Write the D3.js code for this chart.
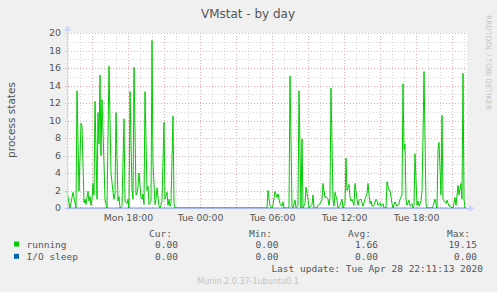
<script src="https://d3js.org/d3.v7.min.js"></script>
<style>
body { margin: 0; background: #f0f0f0; }
svg text { font-family: "DejaVu Sans", sans-serif; fill: #555; }
svg text.mono { font-family: "DejaVu Sans Mono", monospace; }
</style>
<svg id="chart" width="497" height="292"></svg>
<script>
// 5 minute sample index (from Mon 12:55 UTC) and value
var steps = [0,3,6,9,10,12,14,15,17,18,19,21,22,23,24,25,26,27,28,30,31,32,33,34,35,37,38,40,42,44,46,47,48,49,51,52,53,55,57,58,60,61,62,63,65,66,67,69,70,71,72,74,75,76,77,78,80,81,82,84,85,86,88,89,90,92,93,95,97,98,100,101,102,103,104,106,107,108,
    200,201,203,205,206,208,210,211,213,215,216,217,222,223,225,226,228,229,231,232,234,235,236,238,239,241,242,245,246,247,250,251,253,255,256,258,259,261,262,263,264,266,267,268,270,271,273,275,276,278,279,280,282,283,284,285,287,288,290,291,292,
    294,296,298,300,301,303,304,305,307,309,310,311,313,314,316,317,319,320,322,323,325,326,328,329,330,332,333,335,336,337,338,339,340,342,343,345,346,347,348,350,351,352,354,355,356,357,359,360,365,366,368,370,371,372,374,375,376,377,379,380,382,383,385,386,388,389,391,392,394,395,396,397,398,399]
var running = [1.9,0,1.8,0,13.4,1.9,9.7,9.4,0.6,1.0,0.4,1.9,0.8,1.3,0.3,1.0,2.8,1.5,12.2,1.0,10.9,7.3,15.2,6.0,12.4,5.0,1.0,0,16.2,4.0,1.8,1.0,1.7,10.9,0.8,1.3,0,0.2,10.2,0.8,0.5,1.0,0,13.3,2.0,1.0,16.1,1.5,1.6,2.5,4.0,1.2,1.0,1.6,0.4,13.3,2.0,2.5,0.4,0.8,19.15,5.0,0.4,1.0,2.3,0.2,0,0.8,9.8,1.0,1.8,0.3,1.0,0.2,0.6,10.5,0.5,0,
    0,2.0,0.2,0,0.3,1.9,1.2,1.6,0.5,0.2,0.7,0,0,15.1,0.1,0,0.9,0,0.3,13.4,0,7.9,0,0.5,2.4,1.0,0,0.4,1.5,0,0,0.3,0.5,1.0,2.8,1.2,1.3,1.0,0.3,1.2,13.7,1.0,0.2,1.8,0.9,0,0.3,1.0,0,0.6,5.7,2.0,2.7,1.2,0.8,1.0,0.3,2.8,1.0,0.3,0.9,
    1.0,0.2,1.0,1.6,2.8,0.5,0.8,0.2,0.3,1.0,0.8,0.3,0.6,0.2,0.5,0,0,3.0,2.0,2.0,0.5,0,0.7,0.4,0.2,0.5,1.0,1.5,14.2,6.7,7.3,1.0,0.3,0.9,0.2,0.5,0,0.3,6.2,0.3,0.8,0.2,0.8,2.0,8.0,15.6,0.5,0,0,0.2,1.0,0,6.7,7.5,1.5,10.6,1.0,0.8,0.5,0.9,0.2,0.3,0,0,1.2,0.3,2.6,1.5,2.8,1.0,15.4,1.0,0,0]
var ioSteps = [0, 399]
var ioSleep = [0, 0]

var yTicks = [0,2,4,6,8,10,12,14,16,18,20]
var legendNames = ["running", "I/O sleep"]
var legendColors = ["#00cc00", "#0066b3"]
var curVals = ["0.00", "0.00"]
var minVals = ["0.00", "0.00"]
var avgVals = ["1.66", "0.00"]
var maxVals = ["19.15", "0.00"]

var svg = d3.select("#chart")
var pLeft = 67, pRight = 467, pTop = 33, pBottom = 208
var start = new Date(Date.UTC(2020, 3, 27, 12, 55))
var end = new Date(start.getTime() + 400 * 5 * 60000)
var x = d3.scaleUtc().domain([start, end]).range([pLeft, pRight])
var y = d3.scaleLinear().domain([0, 20]).range([pBottom, pTop])
var t = i => new Date(start.getTime() + i * 5 * 60000)

svg.append("rect").attr("width", 497).attr("height", 292).attr("fill", "#f0f0f0")
svg.append("rect").attr("x", pLeft).attr("y", pTop).attr("width", pRight - pLeft).attr("height", pBottom - pTop).attr("fill", "#fff")

// grid: minor every hour / 1 unit, major every 3 hours / 2 units
var minorX = d3.utcHour.every(1).range(start, end)
var majorX = d3.utcHour.every(3).range(start, end)
var minorY = d3.range(1, 21, 2)
svg.append("g").selectAll("line").data(minorX).join("line")
    .attr("x1", d => Math.round(x(d)) + 0.5).attr("x2", d => Math.round(x(d)) + 0.5).attr("y1", pTop).attr("y2", pBottom)
    .style("stroke", "#d6d6d6").style("stroke-dasharray", "1,2")
svg.append("g").selectAll("line").data(minorY).join("line")
    .attr("x1", pLeft).attr("x2", pRight).attr("y1", d => Math.round(y(d)) + 0.5).attr("y2", d => Math.round(y(d)) + 0.5)
    .style("stroke", "#d6d6d6").style("stroke-dasharray", "1,2")
svg.append("g").selectAll("line").data(majorX).join("line")
    .attr("x1", d => Math.round(x(d)) + 0.5).attr("x2", d => Math.round(x(d)) + 0.5).attr("y1", pTop).attr("y2", pBottom + 2)
    .style("stroke", "#f2a8a8").style("stroke-dasharray", "1,2")
svg.append("g").selectAll("line").data(yTicks.slice(1)).join("line")
    .attr("x1", pLeft - 2).attr("x2", pRight).attr("y1", d => Math.round(y(d)) + 0.5).attr("y2", d => Math.round(y(d)) + 0.5)
    .style("stroke", "#f2a8a8").style("stroke-dasharray", "1,2")

// series
var line = d3.line().x(d => x(t(d[0]))).y(d => y(d[1]))
svg.append("path").datum(d3.zip(steps, running)).attr("d", line)
    .attr("fill", "none").style("stroke", legendColors[0]).style("stroke-width", 1)
svg.append("path").datum(d3.zip(ioSteps, ioSleep)).attr("d", line)
    .attr("fill", "none").style("stroke", legendColors[1]).style("stroke-width", 1).style("stroke-opacity", 0.6)

// axes
svg.append("line").attr("x1", pLeft - 2).attr("x2", pRight + 3).attr("y1", pBottom + 0.5).attr("y2", pBottom + 0.5)
    .style("stroke", "#a9b8ee").style("stroke-width", 1)
svg.append("line").attr("x1", pLeft + 0.5).attr("x2", pLeft + 0.5).attr("y1", pBottom + 2).attr("y2", pTop - 3)
    .style("stroke", "#cfd6f8").style("stroke-width", 1)
svg.append("path").attr("d", `M${pRight + 2},${pBottom - 3} L${pRight + 8},${pBottom + 0.5} L${pRight + 2},${pBottom + 4} Z`).attr("fill", "#cfd6f8")
svg.append("path").attr("d", `M${pLeft - 3},${pTop - 2} L${pLeft + 0.5},${pTop - 8} L${pLeft + 4},${pTop - 2} Z`).attr("fill", "#cfd6f8")

// tick labels
svg.append("g").selectAll("text").data(yTicks).join("text")
    .attr("x", 61).attr("y", d => y(d) + 3.3).attr("text-anchor", "end")
    .style("font-size", "9.5px").text(d => d)
svg.append("g").selectAll("text").data(d3.utcHour.every(6).range(start, end)).join("text")
    .attr("x", d => x(d) + 0.5).attr("y", 220.5).attr("text-anchor", "middle")
    .style("font-size", "9.3px").text(d3.utcFormat("%a %H:%M"))

// titles
svg.append("text").attr("x", 248).attr("y", 17.5).attr("text-anchor", "middle").style("font-size", "12px").text("VMstat - by day")
svg.append("text").attr("transform", "translate(14.5,120) rotate(-90)").attr("text-anchor", "middle")
    .style("font-size", "10.5px").text("process states")
svg.append("text").attr("transform", "translate(485.5,15) rotate(90)").attr("text-anchor", "start")
    .style("font-size", "7.4px").style("fill", "#c4c4c4").text("RRDTOOL / TOBI OETIKER")

// legend
var cols = [["Cur:", 172, 178, curVals], ["Min:", 272, 278.5, minVals], ["Avg:", 371, 378, avgVals], ["Max:", 470, 477, maxVals]]
cols.forEach(function(c) {
    svg.append("text").attr("class", "mono").attr("x", c[1]).attr("y", 236.5).attr("text-anchor", "end")
        .style("font-size", "9.5px").text(c[0])
    c[3].forEach(function(v, i) {
        svg.append("text").attr("class", "mono").attr("x", c[2]).attr("y", 247.8 + i * 12.3).attr("text-anchor", "end")
            .style("font-size", "9.5px").text(v)
    })
})
legendNames.forEach(function(n, i) {
    svg.append("rect").attr("x", 14).attr("y", 241.5 + i * 12.3).attr("width", 5).attr("height", 5).attr("fill", legendColors[i])
    svg.append("text").attr("class", "mono").attr("x", 26.5).attr("y", 247.8 + i * 12.3)
        .style("font-size", "9.5px").text(n)
})
svg.append("text").attr("class", "mono").attr("x", 483).attr("y", 272.2).attr("text-anchor", "end")
    .style("font-size", "9.5px").text("Last update: Tue Apr 28 22:11:13 2020")
svg.append("text").attr("x", 248).attr("y", 284).attr("text-anchor", "middle")
    .style("font-size", "8px").style("fill", "#c4c4c4").text("Munin 2.0.37-1ubuntu0.1")
</script>
